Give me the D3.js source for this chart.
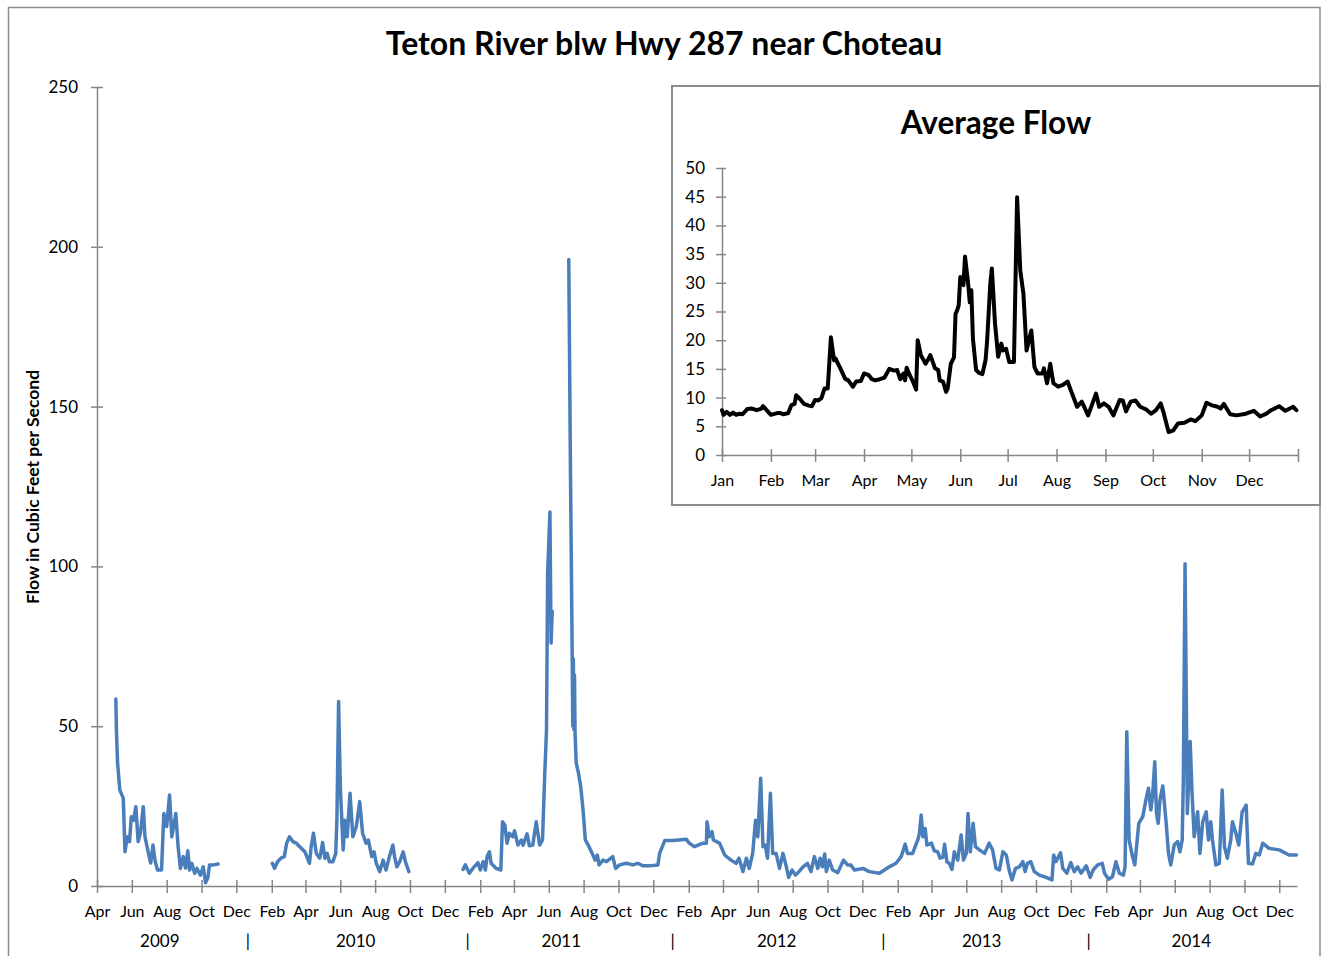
<!DOCTYPE html>
<html>
<head>
<meta charset="utf-8">
<script src="https://cdn.jsdelivr.net/npm/d3@7"></script>
<style>
  html, body { margin: 0; padding: 0; background: #fff; }
  svg { display: block; font-family: Lato, "Open Sans", sans-serif; }
</style>
</head>
<body>
<svg id="chart" width="1323" height="956"></svg>
<script>
// Daily flow (cfs), Teton River below Hwy 287. null marks a break in the record.
const flow2009 = [
  ["2009-05-04",58.5],["2009-05-05",48.8],["2009-05-07",38.5],["2009-05-11",30],["2009-05-17",27.5],
  ["2009-05-20",10.7],["2009-05-24",15.4],["2009-05-28",13.9],["2009-05-31",21.7],["2009-06-04",20.6],
  ["2009-06-08",24.8],["2009-06-12",13.9],["2009-06-16",16.6],["2009-06-21",24.8],["2009-06-24",15.4],
  ["2009-06-30",10.3],["2009-07-04",7.2],["2009-07-08",12.8],["2009-07-12",7.6],["2009-07-16",5],
  ["2009-07-23",5],["2009-07-27",22.7],["2009-08-01",18.6],["2009-08-06",28.5],["2009-08-10",15.4],
  ["2009-08-17",22.7],["2009-08-21",12.3],["2009-08-25",5.5],["2009-08-30",9.2],["2009-09-03",5.6],
  ["2009-09-07",11],["2009-09-10",5],["2009-09-14",7.1],["2009-09-19",4],["2009-09-23",5.5],
  ["2009-09-29",3.4],["2009-10-04",6],["2009-10-08",1],["2009-10-12",2.5],["2009-10-15",6.6],
  ["2009-10-22",6.6],["2009-10-30",6.9],["2009-11-01",null]
];
const flow2010 = [
  ["2010-02-02",7.1],["2010-02-06",5.5],["2010-02-11",7.6],["2010-02-17",8.7],["2010-02-23",9.2],
  ["2010-02-27",13.4],["2010-03-04",15.4],["2010-03-10",13.9],["2010-03-16",13.4],["2010-03-22",12.3],
  ["2010-03-31",10.7],["2010-04-08",7.1],["2010-04-11",12.3],["2010-04-15",16.5],["2010-04-20",10.2],
  ["2010-04-26",8.7],["2010-05-01",13.6],["2010-05-05",8.7],["2010-05-09",10.2],["2010-05-13",7.6],
  ["2010-05-19",7.6],["2010-05-24",10.2],["2010-05-26",20.6],["2010-05-29",57.7],["2010-06-01",31],
  ["2010-06-06",11.3],["2010-06-09",20.6],["2010-06-13",15.4],["2010-06-18",29],["2010-06-23",15.4],
  ["2010-06-29",18.6],["2010-07-05",26.4],["2010-07-10",16.5],["2010-07-16",13.4],["2010-07-20",14.4],
  ["2010-07-26",9.2],["2010-07-30",10.7],["2010-08-03",7.1],["2010-08-09",4.5],["2010-08-15",8.1],
  ["2010-08-20",5],["2010-08-26",9.2],["2010-09-01",12.8],["2010-09-04",9.2],["2010-09-08",6],
  ["2010-09-13",7.6],["2010-09-19",10.7],["2010-09-23",7.6],["2010-09-29",4.5],["2010-10-01",null]
];
const flow2011 = [
  ["2011-01-02",5.2],["2011-01-06",6.6],["2011-01-13",4],["2011-01-19",5.5],["2011-01-28",7.3],
  ["2011-02-01",5],["2011-02-06",7.6],["2011-02-10",5],["2011-02-13",9.2],["2011-02-17",10.7],
  ["2011-02-20",7.1],["2011-03-01",5.5],["2011-03-09",5],["2011-03-12",20.1],["2011-03-16",19.1],
  ["2011-03-20",13.4],["2011-03-24",16.5],["2011-03-30",15.4],["2011-04-02",17.3],["2011-04-08",12.8],
  ["2011-04-14",14.4],["2011-04-17",12.8],["2011-04-24",16.3],["2011-04-28",12.6],["2011-05-04",12.8],
  ["2011-05-10",20.1],["2011-05-16",12.8],["2011-05-21",14.4],["2011-05-25",35.3],["2011-05-28",48.8],
  ["2011-05-30",98],["2011-06-03",117],["2011-06-05",76],["2011-06-07",86],["2011-06-20",null],
  ["2011-07-06",196],["2011-07-09",129],["2011-07-12",72],["2011-07-13",50],["2011-07-14",71],
  ["2011-07-15",49],["2011-07-16",66],["2011-07-17",48],["2011-07-19",38.5],["2011-07-23",35.3],
  ["2011-07-27",31],["2011-07-31",23.8],["2011-08-04",14.4],["2011-08-09",12.8],["2011-08-16",10.2],
  ["2011-08-21",8.1],["2011-08-25",9.7],["2011-08-28",6.6],["2011-09-04",8.1],["2011-09-10",7.6],
  ["2011-09-21",9.2],["2011-09-26",5.5],["2011-10-03",6.6],["2011-10-15",7.1],["2011-10-26",6.6],
  ["2011-11-04",7.1],["2011-11-13",6.3],["2011-11-24",6.3],["2011-12-09",6.6],["2011-12-12",10.2],
  ["2011-12-21",14.2]
];
const flow2012 = [
  ["2012-01-04",14.2],["2012-01-28",14.6],["2012-02-02",13.4],["2012-02-11",12.3],["2012-02-26",13.4],
  ["2012-03-03",13.4],["2012-03-04",20.1],["2012-03-08",15.4],["2012-03-13",17],["2012-03-15",14.4],
  ["2012-03-26",13.4],["2012-04-04",9.7],["2012-04-15",8.1],["2012-04-24",7.1],["2012-04-29",8.7],
  ["2012-05-06",4.5],["2012-05-12",8.7],["2012-05-17",5.5],["2012-05-23",10.2],["2012-05-28",20.6],
  ["2012-06-01",15.4],["2012-06-06",33.7],["2012-06-10",12.3],["2012-06-14",12.8],["2012-06-18",8.7],
  ["2012-06-23",29],["2012-06-27",10.2],["2012-07-03",10.2],["2012-07-09",5.5],["2012-07-15",10.2],
  ["2012-07-21",6],["2012-07-25",2.7],["2012-07-31",5],["2012-08-06",3.4],["2012-08-12",4.5],
  ["2012-08-19",6],["2012-08-27",7.1],["2012-09-02",4.5],["2012-09-08",9.2],["2012-09-14",5.5],
  ["2012-09-18",8.7],["2012-09-22",6],["2012-09-26",10],["2012-09-29",4.5],["2012-10-04",8.1],
  ["2012-10-10",5],["2012-10-19",4.2],["2012-10-29",8.1],["2012-11-05",6.6],["2012-11-11",6.6],
  ["2012-11-17",5],["2012-12-02",5.5],["2012-12-13",4.5],["2012-12-31",4]
];
const flow2013 = [
  ["2013-01-17",6],["2013-01-29",7.1],["2013-02-07",9.2],["2013-02-14",13.1],["2013-02-18",10.2],
  ["2013-02-27",10.2],["2013-03-08",14.4],["2013-03-11",16.5],["2013-03-14",22.2],["2013-03-17",15.4],
  ["2013-03-21",18],["2013-03-24",12.8],["2013-04-01",13.4],["2013-04-06",11],["2013-04-12",10.7],
  ["2013-04-16",8.7],["2013-04-21",9],["2013-04-24",13.1],["2013-04-28",7.6],["2013-05-02",7.1],
  ["2013-05-07",5.2],["2013-05-11",10.7],["2013-05-17",8.1],["2013-05-23",16],["2013-05-27",8.1],
  ["2013-06-01",10.2],["2013-06-04",22.7],["2013-06-08",10.7],["2013-06-13",19.6],["2013-06-17",12.3],
  ["2013-06-24",11.3],["2013-07-03",10.2],["2013-07-11",13.4],["2013-07-17",11.3],["2013-07-23",5.5],
  ["2013-07-29",5],["2013-08-04",10.7],["2013-08-10",9.7],["2013-08-15",5],["2013-08-20",1.9],
  ["2013-08-26",5.5],["2013-09-02",6],["2013-09-08",7.6],["2013-09-12",4.5],["2013-09-16",7.1],
  ["2013-09-22",7.6],["2013-09-28",4.5],["2013-10-07",3.4],["2013-10-19",2.7],["2013-10-29",1.9],
  ["2013-11-01",9.7],["2013-11-05",7.6],["2013-11-13",10.4],["2013-11-17",5.5],["2013-11-24",4],
  ["2013-12-01",7.3],["2013-12-07",4.5],["2013-12-13",6],["2013-12-19",4],["2013-12-28",6.3]
];
const flow2014 = [
  ["2014-01-04",2.7],["2014-01-09",5],["2014-01-17",6.6],["2014-01-25",7.1],["2014-01-29",4],
  ["2014-02-05",2.1],["2014-02-12",2.9],["2014-02-18",7.6],["2014-02-24",4],["2014-03-03",3.4],
  ["2014-03-06",6],["2014-03-09",48.3],["2014-03-13",14.4],["2014-03-19",9.2],["2014-03-23",6.6],
  ["2014-03-30",19.6],["2014-04-06",21.7],["2014-04-12",27.4],["2014-04-16",30.6],["2014-04-20",23.8],
  ["2014-04-23",27.9],["2014-04-27",38.9],["2014-04-30",22.7],["2014-05-03",19.6],["2014-05-06",26.9],
  ["2014-05-11",31.3],["2014-05-17",19.6],["2014-05-21",10.2],["2014-05-25",6.6],["2014-05-31",12.8],
  ["2014-06-06",13.9],["2014-06-10",10.7],["2014-06-14",14.4],["2014-06-16",33.2],["2014-06-19",100.8],
  ["2014-06-23",22.7],["2014-06-28",45.2],["2014-07-01",30],["2014-07-05",15.4],["2014-07-11",23.2],
  ["2014-07-15",10.2],["2014-07-20",20.1],["2014-07-26",23.2],["2014-07-30",14.4],["2014-08-03",20.1],
  ["2014-08-06",14.4],["2014-08-12",6.6],["2014-08-18",7.1],["2014-08-23",30],["2014-08-27",12.3],
  ["2014-09-01",8.7],["2014-09-07",14.4],["2014-09-10",20.1],["2014-09-16",16.5],["2014-09-21",12.8],
  ["2014-09-27",23.2],["2014-10-04",25.3],["2014-10-08",7.1],["2014-10-15",6.9],["2014-10-21",10.2],
  ["2014-10-27",9.7],["2014-11-02",13.4],["2014-11-13",11.8],["2014-12-01",11.3],["2014-12-18",9.7],
  ["2014-12-31",9.7]
];

// Average flow by day of year (cfs)
const avgFlow = [
  ["01-01",7.8],["01-02",7.0],["01-04",7.5],["01-06",7.0],["01-08",7.4],["01-10",7.0],["01-12",7.2],
  ["01-14",7.1],["01-17",8.0],["01-20",8.1],["01-23",7.8],["01-26",8.1],["01-27",8.5],["01-29",7.9],
  ["02-01",7.0],["02-05",7.3],["02-07",7.3],["02-09",7.1],["02-12",7.3],["02-14",8.7],["02-16",8.9],
  ["02-17",10.4],["02-19",9.9],["02-22",8.9],["02-25",8.6],["02-27",8.5],["03-01",9.6],["03-03",9.5],
  ["03-05",9.9],["03-07",11.6],["03-09",11.6],["03-11",20.5],["03-13",16.5],["03-14",16.8],["03-15",16.2],
  ["03-17",15.1],["03-20",13.3],["03-22",13.0],["03-25",11.9],["03-27",12.8],["03-30",12.9],["04-01",14.2],
  ["04-04",13.9],["04-06",13.2],["04-08",13.0],["04-11",13.2],["04-14",13.5],["04-17",15.0],["04-20",14.7],
  ["04-22",14.8],["04-24",13.2],["04-26",14.2],["04-27",13.0],["04-28",15.2],["04-30",13.9],["05-02",12.8],
  ["05-04",11.4],["05-05",20.0],["05-07",17.4],["05-10",15.9],["05-12",16.8],["05-13",17.4],["05-16",15.1],
  ["05-18",14.8],["05-19",13.0],["05-21",12.8],["05-23",11.0],["05-24",11.6],["05-26",15.9],["05-28",17.0],
  ["05-29",24.6],["05-30",25.2],["05-31",26.1],["06-01",31.0],["06-03",29.6],["06-04",34.6],["06-06",29.8],
  ["06-07",26.6],["06-08",28.7],["06-09",20.3],["06-11",14.8],["06-13",14.3],["06-15",14.1],["06-17",16.5],
  ["06-18",19.9],["06-20",29.8],["06-21",32.5],["06-23",22.9],["06-25",17.1],["06-27",19.4],["06-28",18.2],
  ["06-30",18.5],["07-02",16.2],["07-05",16.2],["07-07",44.9],["07-09",32.2],["07-11",28.1],["07-13",18.2],
  ["07-14",19.4],["07-16",21.7],["07-18",15.3],["07-20",14.2],["07-23",14.2],["07-24",15.1],["07-26",12.5],
  ["07-28",15.9],["07-30",12.5],["08-02",11.9],["08-05",12.2],["08-08",12.8],["08-10",11.3],["08-14",8.4],
  ["08-17",9.3],["08-21",6.9],["08-26",10.7],["08-28",8.4],["08-31",9.0],["09-03",8.4],["09-06",6.9],
  ["09-10",9.6],["09-12",9.5],["09-14",7.6],["09-17",9.3],["09-20",9.5],["09-23",8.4],["09-27",7.9],
  ["09-30",7.2],["10-03",7.8],["10-06",9.0],["10-08",7.2],["10-11",4.0],["10-14",4.3],["10-17",5.5],
  ["10-21",5.6],["10-25",6.2],["10-28",5.9],["11-01",6.9],["11-04",9.1],["11-07",8.7],["11-11",8.4],
  ["11-13",8.1],["11-15",8.9],["11-19",7.1],["11-23",6.9],["11-29",7.2],["12-04",7.7],["12-08",6.7],
  ["12-12",7.2],["12-15",7.8],["12-20",8.5],["12-24",7.7],["12-29",8.4],["12-31",7.8]
];

// Axis labelling
const mainYTicks = [0, 50, 100, 150, 200, 250];
const insetYTicks = [0, 5, 10, 15, 20, 25, 30, 35, 40, 45, 50];
const yearLabels = ["2009", "2010", "2011", "2012", "2013", "2014"];
const yearLabelDates = ["2009-07-20", "2010-06-28", "2011-06-23", "2012-07-04", "2013-06-28", "2014-06-30"];
const yearSeparatorDates = ["2009-12-21", "2011-01-10", "2012-01-04", "2013-01-07", "2014-01-01"];
const chartTitle = "Teton River blw Hwy 287 near Choteau";
const insetTitle = "Average Flow";
const yAxisTitle = "Flow in Cubic Feet per Second";

const parseDate = d3.timeParse("%Y-%m-%d");
const parseMD = d3.timeParse("%m-%d");   // year defaults to 1900 (not a leap year)
const AXIS = "#868686";
const BLUE = "#4a7ebb";

const svg = d3.select("#chart");

// Outer chart frame
svg.append("rect")
  .attr("x", 8.5).attr("y", 7.5).attr("width", 1311.5).attr("height", 960)
  .attr("fill", "#fff").attr("stroke", "#8c8c8c").attr("stroke-width", 1.5);

// ---------- main series ----------
const series = [].concat(flow2009, flow2010, flow2011, flow2012, flow2013, flow2014)
  .map(([d, v]) => ({ date: parseDate(d), value: v }));

const x = d3.scaleTime()
  .domain([parseDate("2009-04-01"), parseDate("2015-01-01")])
  .range([97, 1297]);
const y = d3.scaleLinear().domain([0, 250]).range([886, 87]);

const xAxisG = svg.append("g").attr("transform", "translate(0,886)")
  .call(d3.axisBottom(x)
    .tickValues(d3.timeMonth.range(parseDate("2009-04-01"), parseDate("2015-01-01"), 2))
    .tickFormat(d3.timeFormat("%b"))
    .tickSizeOuter(0));
xAxisG.select(".domain").attr("stroke", AXIS).attr("stroke-width", 1.5);
xAxisG.selectAll(".tick line").attr("stroke", AXIS).attr("stroke-width", 1.5).attr("y1", -6).attr("y2", 7);
xAxisG.selectAll(".tick text").attr("dy", null).attr("y", 31)
  .attr("font-size", 16).attr("font-family", "Lato").attr("fill", "#000");

const yAxisG = svg.append("g").attr("transform", "translate(97,0)")
  .call(d3.axisLeft(y).tickValues(mainYTicks).tickSizeOuter(0));
yAxisG.select(".domain").attr("stroke", AXIS).attr("stroke-width", 1.5);
yAxisG.selectAll(".tick line").attr("stroke", AXIS).attr("stroke-width", 1.5).attr("x1", -6).attr("x2", 6);
yAxisG.selectAll(".tick text").attr("x", -19)
  .attr("font-size", 17).attr("font-family", "Lato").attr("fill", "#000");

// year captions under the month labels
svg.append("g").selectAll("text").data(yearLabels).join("text")
  .attr("x", (d, i) => x(parseDate(yearLabelDates[i])))
  .attr("y", 947)
  .attr("text-anchor", "middle").attr("font-size", 17).attr("fill", "#000")
  .text(d => d);
svg.append("g").selectAll("text").data(yearSeparatorDates).join("text")
  .attr("x", d => x(parseDate(d)))
  .attr("y", 947)
  .attr("text-anchor", "middle").attr("font-size", 17).attr("fill", "#000")
  .text("|");

const flowLine = d3.line()
  .defined(d => d.value != null)
  .x(d => x(d.date)).y(d => y(d.value));
svg.append("path").datum(series)
  .attr("d", flowLine)
  .attr("fill", "none").attr("stroke", BLUE).attr("stroke-width", 3.5)
  .attr("stroke-linejoin", "round").attr("stroke-linecap", "round");

svg.append("text")
  .attr("x", 664).attr("y", 55).attr("text-anchor", "middle")
  .attr("font-size", 32).attr("font-weight", "bold").attr("fill", "#000")
  .text(chartTitle);

svg.append("text")
  .attr("transform", "translate(39,487) rotate(-90)")
  .attr("text-anchor", "middle").attr("font-size", 17.5).attr("font-weight", "bold").attr("fill", "#000")
  .text(yAxisTitle);

// ---------- inset: average flow ----------
svg.append("rect")
  .attr("x", 672).attr("y", 86).attr("width", 648).attr("height", 419)
  .attr("fill", "#fff").attr("stroke", "#8c8c8c").attr("stroke-width", 2);

const ix = d3.scaleTime()
  .domain([parseMD("01-01"), d3.timeYear.offset(parseMD("01-01"), 1)])
  .range([722, 1298]);
const iy = d3.scaleLinear().domain([0, 50]).range([455, 168]);

const ixAxisG = svg.append("g").attr("transform", "translate(0,455)")
  .call(d3.axisBottom(ix)
    .tickValues(d3.timeMonth.range(ix.domain()[0], d3.timeDay.offset(ix.domain()[1], 1)))
    .tickFormat(d => d.getFullYear() === 1900 ? d3.timeFormat("%b")(d) : "")
    .tickSizeOuter(0));
ixAxisG.select(".domain").attr("stroke", AXIS).attr("stroke-width", 1.5);
ixAxisG.selectAll(".tick line").attr("stroke", AXIS).attr("stroke-width", 1.5).attr("y1", -6).attr("y2", 7);
ixAxisG.selectAll(".tick text").attr("dy", null).attr("y", 31)
  .attr("font-size", 16).attr("font-family", "Lato").attr("fill", "#000");

const iyAxisG = svg.append("g").attr("transform", "translate(722,0)")
  .call(d3.axisLeft(iy).tickValues(insetYTicks).tickSizeOuter(0));
iyAxisG.select(".domain").attr("stroke", AXIS).attr("stroke-width", 1.5);
iyAxisG.selectAll(".tick line").attr("stroke", AXIS).attr("stroke-width", 1.5).attr("x1", -6).attr("x2", 4);
iyAxisG.selectAll(".tick text").attr("x", -17)
  .attr("font-size", 17).attr("font-family", "Lato").attr("fill", "#000");

const avgSeries = avgFlow.map(([d, v]) => ({ date: parseMD(d), value: v }));
svg.append("path").datum(avgSeries)
  .attr("d", d3.line().x(d => ix(d.date)).y(d => iy(d.value)))
  .attr("fill", "none").attr("stroke", "#000").attr("stroke-width", 4)
  .attr("stroke-linejoin", "round").attr("stroke-linecap", "round");

svg.append("text")
  .attr("x", 996).attr("y", 134).attr("text-anchor", "middle")
  .attr("font-size", 31.5).attr("font-weight", "bold").attr("fill", "#000")
  .text(insetTitle);
</script>
</body>
</html>
